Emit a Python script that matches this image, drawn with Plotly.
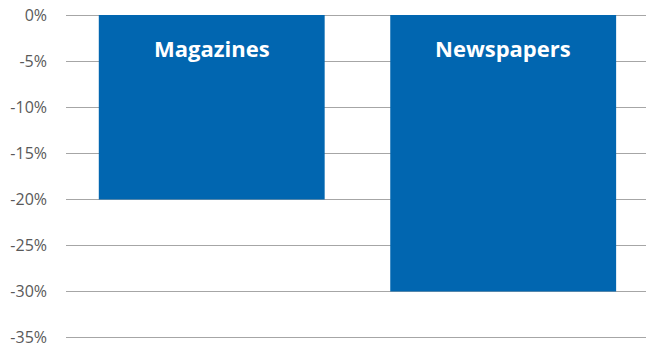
import plotly.graph_objects as go

# Year-on-year change in revenue by print segment
categories = ["Magazines", "Newspapers"]
change_pct = [-20, -30]
tick_vals = [0, -5, -10, -15, -20, -25, -30, -35]
tick_text = ["0%", "-5%", "-10%", "-15%", "-20%", "-25%", "-30%", "-35%"]

bar_color = "#0166B0"
grid_color = "#A6A6A6"

fig = go.Figure()
fig.add_trace(go.Bar(
    x=categories,
    y=change_pct,
    marker=dict(color=bar_color, line=dict(width=0)),
    width=0.775,
    hoverinfo="x+y",
))

# Category names drawn in white at the top of each bar
for cat in categories:
    fig.add_annotation(
        x=cat, y=0, yref="y", xref="x",
        text=f"<b>{cat}</b>",
        showarrow=False,
        yanchor="middle",
        yshift=-33,
        font=dict(family="Open Sans", size=22, color="white"),
    )

fig.update_layout(
    width=646, height=349,
    margin=dict(l=66, r=0, t=15, b=9),
    paper_bgcolor="white",
    plot_bgcolor="white",
    showlegend=False,
    font=dict(family="Open Sans", color="#595959"),
)
fig.update_xaxes(
    range=[-0.5, 1.49],
    showticklabels=False,
    showgrid=False,
    zeroline=False,
    showline=False,
)
fig.update_yaxes(
    range=[-35.25, 0],
    tickvals=tick_vals,
    ticktext=tick_text,
    tickfont=dict(family="Open Sans", size=16, color="#595959"),
    showgrid=True,
    gridcolor=grid_color,
    gridwidth=1.4,
    zeroline=True,
    zerolinecolor=grid_color,
    zerolinewidth=1.4,
    showline=False,
    ticks="",
    ticklabelstandoff=18,
)

fig.write_html("out.html")
